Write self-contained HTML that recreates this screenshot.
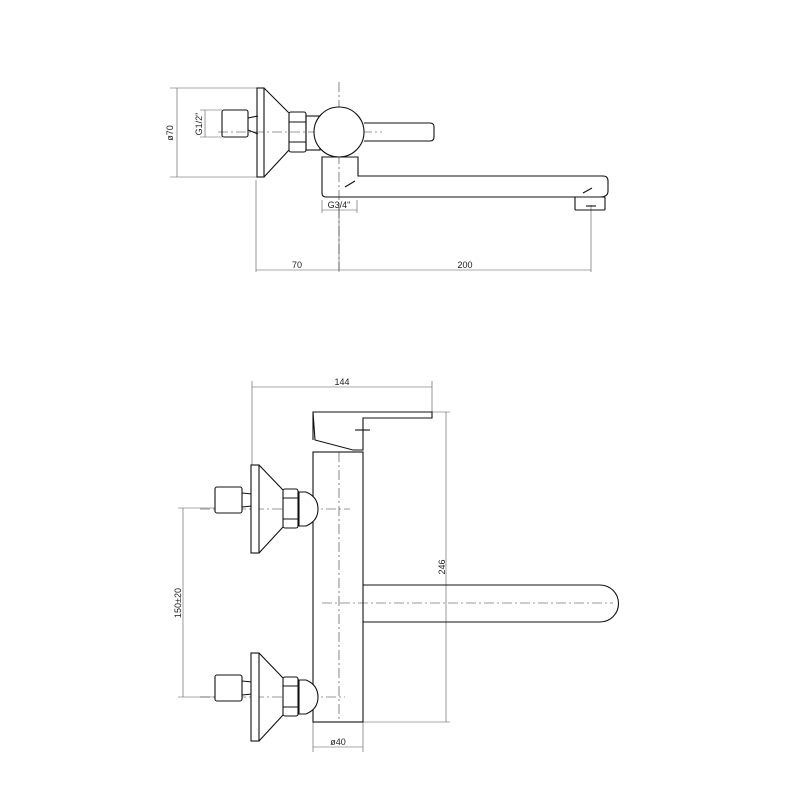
<!DOCTYPE html>
<html><head><style>body{margin:0;background:#fff}svg{display:block}text{font-family:"Liberation Sans",sans-serif;font-size:9px;fill:#222}</style></head><body>
<svg width="800" height="800" viewBox="0 0 800 800" xmlns="http://www.w3.org/2000/svg">
<defs>
<g id="inlet" fill="#fff" stroke="#111" stroke-width="1.1">
<rect x="215" y="-22" width="27" height="26" rx="2"/>
<path d="M242 -16 L252 -15 M242 -2 L252 -3" />
<rect x="251" y="-44" width="8" height="88"/>
<path d="M259 -44 L283 -19 M259 44 L283 18"/>
<rect x="283" y="-20" width="15" height="39" rx="2"/>
<path d="M283 -11 H298 M283 10 H298"/>
<path d="M299 -17 H306 Q318 -12 318 0 Q318 12 306 17 H299 Z"/>
</g>
</defs>
<g stroke="#555" stroke-width="0.6" fill="none">
<!-- top view dims -->
<path d="M177 88 V177 M170 88 H258 M170 177 H258"/>
<path d="M205 110 V137 M200 110 H222 M200 137 H222"/>
<path d="M256 180 V272 M339 205 V272 M591 205 V272 M256 270 H591"/>
<path d="M322 200 V213 M357 200 V213 M322 210 H357"/>
<!-- bottom dims -->
<path d="M252 381 V465 M432 381 V412 M252 387 H432"/>
<path d="M363 412 H450 M363 722 H450 M446 412 V722"/>
<path d="M178 508 H215 M178 697 H215 M183 508 V697"/>
<path d="M313 722 V752 M363 722 V752 M313 747 H363"/>
</g>
<g stroke="#333" stroke-width="0.6" stroke-dasharray="10 3 2 3" fill="none">
<path d="M218 132 H382 M339 82 V270"/>
<path d="M339 452 V722 M322 603 H613"/>
<path d="M200 509 H350 M200 697 H345"/>
</g>
<g fill="none" stroke="#111" stroke-width="1.1">
<!-- top view -->
<rect x="222" y="110" width="26" height="27" rx="2"/>
<path d="M248 118 L258 116 M248 130 L258 134"/>
<rect x="257" y="88" width="7" height="89"/>
<path d="M264 88 L289 113 M264 177 L289 150"/>
<rect x="289" y="112" width="17" height="40" rx="2"/>
<path d="M289 122 H306 M289 142 H306"/>
<rect x="306" y="116" width="14" height="34"/>
<path d="M364 123 H430 Q434 123 434 127 V137 Q434 141 430 141 H364"/>
<circle cx="339" cy="132" r="25" fill="#fff"/>
<path d="M322 157 H358 V176 H603 Q608 176 608 181 V191 Q608 197 600 197 H326 Q322 197 322 193 Z"/>
<path d="M355 181 L345 187 M583 193 L592 188"/>
<rect x="575" y="197" width="30" height="13" rx="1"/>
<path d="M586 206 H596"/>
<!-- bottom view -->
<path d="M313 412 H432 V418 H363 V450 H353 L315 440 Z M313 412 V440"/>
<path d="M355 430 H370"/>
<rect x="313" y="452" width="50" height="270"/>
<path d="M363 585 H600 A18.5 18.5 0 0 1 600 622 H363"/>
</g>
<use href="#inlet" y="509"/>
<use href="#inlet" y="697"/>
<text x="173" y="133" transform="rotate(-90 173 133)" text-anchor="middle">ø70</text>
<text x="202" y="124" transform="rotate(-90 202 124)" text-anchor="middle">G1/2"</text>
<text x="339" y="208" text-anchor="middle" font-size="8">G3/4"</text>
<text x="297" y="268" text-anchor="middle">70</text>
<text x="465" y="268" text-anchor="middle">200</text>
<text x="342" y="385" text-anchor="middle">144</text>
<text x="445" y="567" transform="rotate(-90 445 567)" text-anchor="middle">246</text>
<text x="181" y="603" transform="rotate(-90 181 603)" text-anchor="middle">150±20</text>
<text x="338" y="745" text-anchor="middle">ø40</text>
</svg>
</body></html>
